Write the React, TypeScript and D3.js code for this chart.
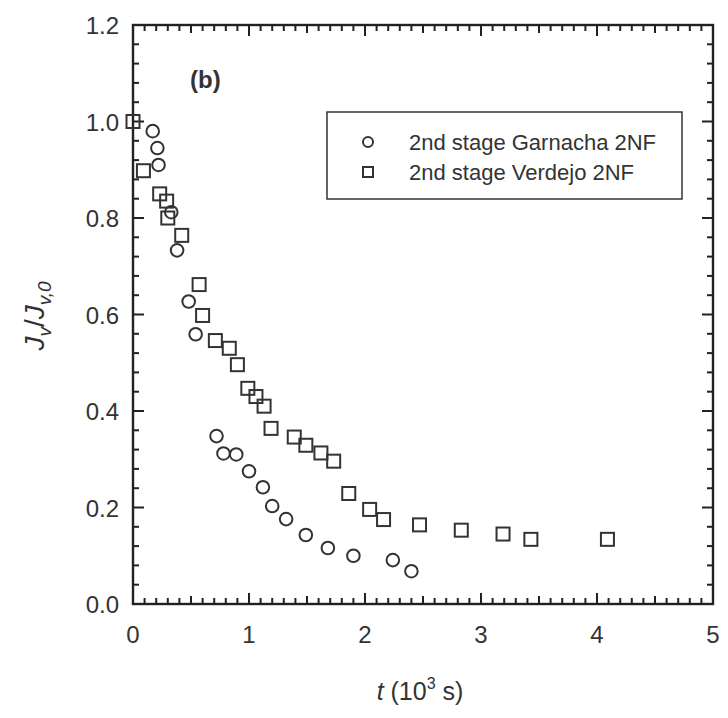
import React from "react";
import * as d3 from "d3";

const garnachaT = [0.17, 0.21, 0.22, 0.33, 0.38, 0.48, 0.54, 0.72, 0.78, 0.89, 1.0, 1.12, 1.2, 1.32, 1.49, 1.68, 1.9, 2.24, 2.4];
const garnachaV = [0.98, 0.945, 0.91, 0.812, 0.733, 0.627, 0.559, 0.348, 0.312, 0.31, 0.275, 0.242, 0.203, 0.176, 0.143, 0.116, 0.1, 0.091, 0.068];

const verdejoT = [0, 0.09, 0.23, 0.29, 0.3, 0.42, 0.57, 0.6, 0.71, 0.83, 0.9, 0.99, 1.06, 1.13, 1.19, 1.39, 1.49, 1.62, 1.73, 1.86, 2.04, 2.16, 2.47, 2.83, 3.19, 3.43, 4.09];
const verdejoV = [1.0, 0.898, 0.85, 0.835, 0.8, 0.764, 0.662, 0.598, 0.546, 0.53, 0.496, 0.447, 0.43, 0.41, 0.364, 0.346, 0.329, 0.313, 0.296, 0.229, 0.196, 0.175, 0.164, 0.153, 0.145, 0.134, 0.134];

const xTicks = [0, 1, 2, 3, 4, 5];
const yTicks = [0.0, 0.2, 0.4, 0.6, 0.8, 1.0, 1.2];
const legendLabels = ["2nd stage Garnacha 2NF", "2nd stage Verdejo 2NF"];

const W = 728, H = 718;
const L = 133, R = 713, T = 25, B = 604;
const ink = "#333";
const font = "'Liberation Sans', Arial, sans-serif";

export default function App() {
  const x = d3.scaleLinear().domain([0, 5]).range([L, R]);
  const y = d3.scaleLinear().domain([0, 1.2]).range([B, T]);
  const xMinor = d3.range(0, 51, 1).map((d) => d / 10);
  const yMinor = d3.range(0, 31, 1).map((d) => d * 0.04);
  const sym = 13;
  const circle = (cx: number, cy: number, k: string, r = 6.3) => (
    <circle key={k} cx={cx} cy={cy} r={r} fill="none" stroke={ink} strokeWidth={2} />
  );
  const square = (cx: number, cy: number, k: string, s = sym) => (
    <rect key={k} x={cx - s / 2} y={cy - s / 2} width={s} height={s} fill="none" stroke={ink} strokeWidth={2} />
  );
  const xt = xMinor.map((t, i) => ({ px: x(t), len: i % 10 === 0 ? 11 : i % 5 === 0 ? 8 : 6 }));
  const yt = yMinor.map((v, i) => ({ py: y(v), len: i % 5 === 0 ? 11 : 6 }));
  return (
    <svg width={W} height={H} style={{ position: "absolute", left: 0, top: 0, background: "#fff" }}>
      <rect x={0} y={0} width={W} height={H} fill="#fff" />
      <g stroke="#222" strokeWidth={2}>
        {xt.map((k, i) => (
          <line key={"xb" + i} x1={k.px} x2={k.px} y1={B} y2={B - k.len} />
        ))}
        {xt.map((k, i) => (
          <line key={"xt" + i} x1={k.px} x2={k.px} y1={T} y2={T + k.len} />
        ))}
        {yt.map((k, i) => (
          <line key={"yl" + i} x1={L} x2={L + k.len} y1={k.py} y2={k.py} />
        ))}
        {yt.map((k, i) => (
          <line key={"yr" + i} x1={R} x2={R - k.len} y1={k.py} y2={k.py} />
        ))}
      </g>
      <rect x={L} y={T} width={R - L} height={B - T} fill="none" stroke="#222" strokeWidth={2.4} />
      {xTicks.map((t) => (
        <text key={"xtl" + t} x={x(t)} y={B + 39} textAnchor="middle" fontFamily={font} fontSize={24} fill={ink}>
          {t}
        </text>
      ))}
      {yTicks.map((v) => (
        <text key={"ytl" + v} x={L - 14} y={y(v) + 9} textAnchor="end" fontFamily={font} fontSize={24} fill={ink}>
          {v.toFixed(1)}
        </text>
      ))}
      <text x={420} y={700} textAnchor="middle" fontFamily={font} fontSize={25} fill={ink}>
        <tspan fontStyle="italic">t</tspan>
        <tspan> (10</tspan>
        <tspan dy={-11} fontSize={16}>3</tspan>
        <tspan dy={11}> s)</tspan>
      </text>
      <text transform={`translate(44,316) rotate(-90)`} textAnchor="middle" fontFamily={font} fontSize={28} fill={ink}>
        <tspan fontStyle="italic">J</tspan>
        <tspan dy={7} fontSize={19} fontStyle="italic">v</tspan>
        <tspan dy={-7}>/</tspan>
        <tspan fontStyle="italic">J</tspan>
        <tspan dy={7} fontSize={19} fontStyle="italic">v,0</tspan>
      </text>
      <text x={190} y={88} fontFamily={font} fontSize={24} fontWeight="bold" fill={ink}>(b)</text>
      <rect x={327} y={112} width={355} height={87} fill="#fff" stroke={ink} strokeWidth={1.5} />
      {circle(368, 142, "lg0", 5)}
      {square(368, 172, "lg1", 10)}
      {legendLabels.map((s, i) => (
        <text key={"lt" + i} x={409} y={142 + i * 30 + 8} fontFamily={font} fontSize={22} fill={ink}>
          {s}
        </text>
      ))}
      {garnachaT.map((t, i) => circle(x(t), y(garnachaV[i]), "g" + i))}
      {verdejoT.map((t, i) => square(x(t), y(verdejoV[i]), "v" + i))}
    </svg>
  );
}
